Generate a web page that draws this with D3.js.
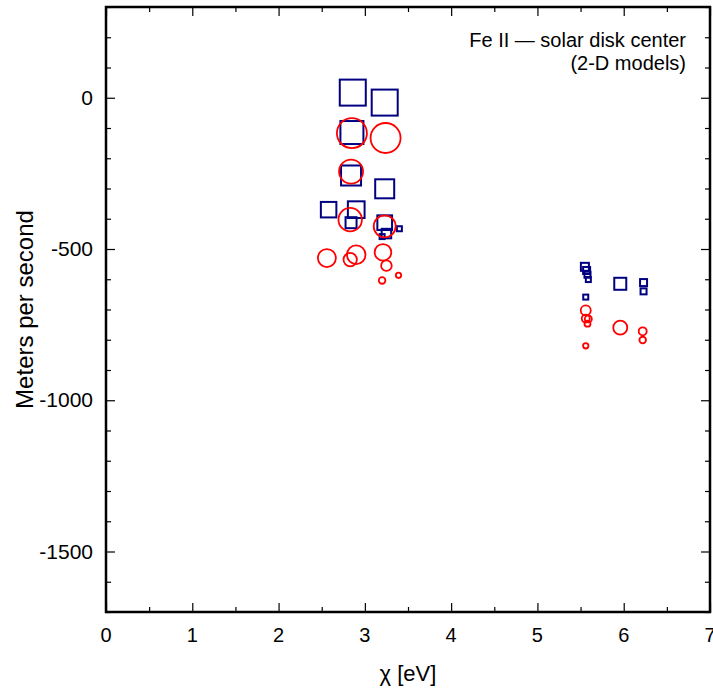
<!DOCTYPE html>
<html>
<head>
<meta charset="utf-8">
<script src="https://cdn.jsdelivr.net/npm/d3@7"></script>
<style>
  html, body { margin: 0; padding: 0; background: #fff; }
  svg { display: block; }
  text { font-family: "Liberation Sans", Arial, Helvetica, sans-serif; fill: #000; }
</style>
</head>
<body>
<svg id="chart" width="713" height="692"></svg>
<script>
// ---- Data ----
// Squares (navy): excitation potential chi [eV], velocity [m/s], marker size
const squareChi  = [2.86, 3.23, 2.85, 2.84, 3.23, 2.58, 2.90, 2.84, 3.23, 3.25, 3.40, 3.20,
                    5.55, 5.57, 5.58, 5.59, 5.56, 5.96, 6.23, 6.23];
const squareVel  = [17, -16, -115, -257, -301, -370, -370, -413, -413, -449, -433, -459,
                    -559, -571, -585, -601, -659, -615, -611, -640];
const squareSize = [26, 26, 23, 20, 19, 15.5, 16.7, 11, 14.7, 9.5, 5, 5,
                    8, 7, 6, 5, 5, 12, 7, 6];

// Circles (red)
const circleChi  = [2.85, 3.24, 2.84, 2.83, 3.23, 2.56, 2.90, 2.83, 3.21, 3.25, 3.20, 3.39,
                    5.56, 5.56, 5.59, 5.58, 5.56, 5.96, 6.22, 6.22];
const circleVel  = [-117, -133, -244, -403, -425, -530, -519, -535, -511, -555, -604, -587,
                    -703, -730, -731, -747, -820, -760, -772, -801];
const circleSize = [30, 30, 24, 23.4, 22, 18, 18.6, 13.4, 16.6, 10.6, 6.6, 5.4,
                    10, 8, 7, 6, 5.4, 14, 8, 6.6];

const xTicks = [0, 1, 2, 3, 4, 5, 6, 7];
const yTicks = [0, -500, -1000, -1500];
const titleLines = ["Fe II \u2014 solar disk center", "(2-D models)"];
const xTitle = "\u03c7 [eV]";
const yTitle = "Meters per second";

// ---- Layout ----
const svg = d3.select("#chart");
const L = 106, R = 710, T = 7, B = 612;

const x = d3.scaleLinear().domain([0, 7]).range([L, R]);
const y = d3.scaleLinear().domain([-1700, 300]).range([B, T]);
const sz = d3.scaleLinear().domain([0, 30]).range([0, 30]);

const squares = squareChi.map((c, i) => ({ c, v: squareVel[i], s: squareSize[i] }));
const circles = circleChi.map((c, i) => ({ c, v: circleVel[i], s: circleSize[i] }));

// Axes with inward ticks on all four sides
const xMinor = d3.range(0, 7.01, 0.5).filter(v => !xTicks.includes(v));
const yMinor = d3.range(-1700, 301, 100).filter(v => !yTicks.includes(v));

function addAxis(axisFn, scale, tickVals, len, transform) {
  const g = svg.append("g").attr("transform", transform)
    .call(axisFn(scale).tickValues(tickVals).tickSize(len).tickSizeOuter(0).tickFormat(""));
  g.select(".domain").remove();
  g.selectAll(".tick line").attr("stroke", "#000").attr("stroke-width", 1.2);
  return g;
}

// bottom
addAxis(d3.axisTop, x, xTicks, 9, `translate(0,${B})`);
addAxis(d3.axisTop, x, xMinor, 5, `translate(0,${B})`);
// top
addAxis(d3.axisBottom, x, xTicks, 9, `translate(0,${T})`);
addAxis(d3.axisBottom, x, xMinor, 5, `translate(0,${T})`);
// left
addAxis(d3.axisRight, y, yTicks, 9, `translate(${L},0)`);
addAxis(d3.axisRight, y, yMinor, 5, `translate(${L},0)`);
// right
addAxis(d3.axisLeft, y, yTicks, 9, `translate(${R},0)`);
addAxis(d3.axisLeft, y, yMinor, 5, `translate(${R},0)`);

// tick labels
svg.append("g").selectAll("text").data(xTicks).join("text")
  .attr("x", d => x(d)).attr("y", 642)
  .attr("text-anchor", "middle").attr("font-size", 20)
  .text(d => d);
svg.append("g").selectAll("text").data(yTicks).join("text")
  .attr("x", 93).attr("y", d => y(d) + 7)
  .attr("text-anchor", "end").attr("font-size", 21)
  .text(d => d);

// frame
svg.append("rect").attr("x", L).attr("y", T).attr("width", R - L).attr("height", B - T)
  .attr("fill", "none").attr("stroke", "#000").attr("stroke-width", 2.5);

// marks
const plot = svg.append("g");
plot.selectAll("rect.sq").data(squares).join("rect").attr("class", "sq")
  .attr("x", d => x(d.c) - sz(d.s) / 2).attr("y", d => y(d.v) - sz(d.s) / 2)
  .attr("width", d => sz(d.s)).attr("height", d => sz(d.s))
  .attr("fill", "none").attr("stroke", "#000080").attr("stroke-width", 2);
plot.selectAll("circle").data(circles).join("circle")
  .attr("cx", d => x(d.c)).attr("cy", d => y(d.v)).attr("r", d => sz(d.s) / 2)
  .attr("fill", "none").attr("stroke", "#ff0000").attr("stroke-width", 1.8);

// annotation
svg.append("g").selectAll("text").data(titleLines).join("text")
  .attr("x", 686).attr("y", (d, i) => 47 + i * 23)
  .attr("text-anchor", "end").attr("font-size", 20)
  .text(d => d);

// axis titles
svg.append("text").attr("x", x(3.5)).attr("y", 681)
  .attr("text-anchor", "middle").attr("font-size", 22).text(xTitle);
svg.append("text").attr("transform", `translate(33,${y(-700)}) rotate(-90)`)
  .attr("text-anchor", "middle").attr("font-size", 24).text(yTitle);
</script>
</body>
</html>
